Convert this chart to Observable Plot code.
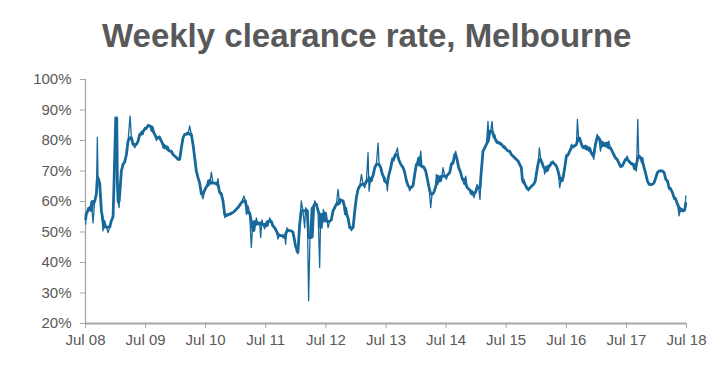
<!DOCTYPE html>
<html>
<head>
<meta charset="utf-8">
<script src="https://cdn.jsdelivr.net/npm/d3@7"></script>
<script src="https://cdn.jsdelivr.net/npm/@observablehq/plot@0.6"></script>
<style>
  html, body { margin: 0; padding: 0; background: #fff; }
  #wrap { position: relative; width: 721px; height: 370px; overflow: hidden; background: #fff; }
  #title { position: absolute; top: 19px; left: 102px; font-family: "Liberation Sans", Arial, sans-serif; font-weight: bold; font-size: 33px; line-height: 33px; color: #595959; white-space: nowrap; }
  #chart { position: absolute; top: 70px; left: 0; }
</style>
</head>
<body>
<div id="wrap">
  <div id="title">Weekly clearance rate, Melbourne</div>
  <div id="chart"></div>
</div>
<script>
// Week (as decimal year)
const years = [
2008.500,2008.511,2008.539,2008.566,2008.594,2008.622,2008.650,2008.678,2008.694,2008.705,
2008.733,2008.761,2008.788,2008.816,2008.844,2008.872,2008.899,2008.927,2008.955,2008.971,
2008.999,2009.016,2009.027,2009.038,2009.055,2009.066,2009.093,2009.121,2009.149,2009.177,
2009.204,2009.238,2009.260,2009.288,2009.315,2009.343,2009.371,2009.399,2009.426,2009.454,
2009.482,2009.510,2009.537,2009.565,2009.593,2009.620,2009.648,2009.676,2009.704,2009.731,
2009.759,2009.787,2009.814,2009.842,2009.870,2009.898,2009.925,2009.953,2009.981,2010.008,
2010.036,2010.064,2010.092,2010.120,2010.147,2010.175,2010.203,2010.230,2010.258,2010.286,
2010.314,2010.341,2010.369,2010.397,2010.425,2010.452,2010.480,2010.508,2010.535,2010.563,
2010.591,2010.619,2010.646,2010.674,2010.702,2010.730,2010.757,2010.785,2010.813,2010.840,
2010.868,2010.896,2010.924,2010.951,2010.979,
2011.035,2011.090,2011.134,2011.157,2011.173,2011.201,2011.229,2011.256,2011.284,2011.312,
2011.340,2011.367,2011.395,2011.412,2011.434,2011.450,2011.478,2011.506,2011.534,2011.561,
2011.589,2011.617,2011.645,2011.672,2011.700,2011.728,2011.756,2011.783,2011.811,2011.828,
2011.850,2011.867,2011.894,2011.922,2011.950,2011.977,2011.990,2012.005,2012.020,2012.033,
2012.061,2012.088,2012.116,2012.144,2012.160,2012.188,2012.210,2012.232,2012.255,2012.282,
2012.310,2012.338,2012.366,2012.393,2012.410,2012.432,2012.454,2012.477,2012.504,2012.532,
2012.560,2012.587,2012.615,2012.643,2012.671,2012.698,2012.726,2012.754,2012.782,2012.809,
2012.837,2012.865,2012.893,2012.920,2012.948,2012.976,2013.003,2013.031,2013.059,2013.087,
2013.114,2013.142,2013.170,2013.197,2013.214,2013.242,2013.264,2013.286,2013.308,2013.336,
2013.364,2013.381,2013.408,2013.436,2013.464,
2013.475,2013.503,2013.519,2013.542,2013.575,2013.597,2013.630,2013.652,2013.686,2013.708,
2013.741,2013.780,2013.808,2013.836,2013.863,2013.891,2013.919,2013.946,2013.974,2014.002,
2014.030,2014.046,2014.074,2014.096,2014.129,2014.157,2014.185,2014.213,2014.240,2014.263,
2014.290,2014.318,2014.335,2014.362,2014.390,2014.418,2014.446,2014.473,2014.501,2014.529,
2014.557,2014.584,2014.612,2014.640,2014.656,2014.679,2014.706,2014.739,2014.767,2014.795,
2014.823,2014.850,2014.878,2014.906,2014.934,2014.961,2014.984,2015.011,2015.039,2015.061,
2015.083,2015.111,2015.139,2015.167,2015.194,2015.211,2015.239,2015.261,2015.283,2015.305,
2015.333,2015.361,2015.388,2015.416,2015.444,2015.472,2015.499,2015.527,2015.555,2015.583,
2015.610,2015.638,2015.666,2015.694,2015.721,2015.749,2015.766,2015.793,2015.821,2015.849,
2015.871,2015.899,2015.926,2015.954,2015.982,
2015.999,2016.026,2016.049,2016.071,2016.093,2016.121,2016.137,2016.165,2016.193,2016.221,
2016.248,2016.276,2016.304,2016.332,2016.359,2016.387,2016.415,2016.442,2016.470,2016.498,
2016.526,2016.553,2016.581,2016.609,2016.637,2016.664,2016.681,2016.703,2016.731,2016.759,
2016.786,2016.814,2016.842,2016.870,2016.897,2016.925,2016.953,2016.980,2017.008,2017.036,
2017.064,2017.091,2017.119,2017.147,2017.175,2017.202,2017.230,2017.258,2017.285,2017.313,
2017.341,2017.369,2017.396,2017.424,2017.452,2017.480,2017.507,2017.535,2017.563,2017.591,
2017.618,2017.646,2017.663,2017.685,2017.701,2017.724,2017.746,2017.768,2017.790,2017.818,
2017.846,2017.874,2017.901,2017.929,2017.957,2017.984,2018.012,2018.040,2018.068,2018.095,
2018.123,2018.151,2018.179,2018.206,2018.234,2018.262,2018.289,2018.317,2018.345,2018.373,
2018.395,2018.417,2018.439,2018.467,2018.484
];

// Weekly clearance rate (%)
const rates = [
52.6,56.0,58.0,57.0,60.2,53.0,60.0,62.5,81.0,67.8,
66.0,57.0,50.4,53.7,51.6,49.8,51.6,53.7,55.0,66.0,
87.4,87.4,66.0,60.0,58.0,62.5,70.0,72.2,73.0,75.4,
79.8,88.0,80.9,78.7,77.6,78.7,79.8,82.0,83.0,82.0,
84.2,83.7,85.3,84.8,83.0,84.5,82.0,80.0,80.9,81.5,
79.8,77.6,78.7,77.0,78.0,76.5,76.5,75.4,74.9,74.5,
73.8,73.8,77.6,80.9,82.0,82.5,82.0,84.8,82.0,78.7,
74.3,70.0,67.8,66.0,62.5,60.9,63.7,64.8,67.0,65.4,
69.6,66.0,66.0,65.4,67.5,62.5,63.0,60.2,54.7,55.8,
55.3,56.2,55.8,56.4,56.9,
58.0,59.6,61.8,60.2,55.8,58.6,56.3,44.9,53.5,50.4,
54.6,52.5,53.0,48.2,54.0,52.5,51.0,53.5,52.0,54.6,
53.5,52.0,51.4,50.4,47.7,49.3,48.8,48.2,49.3,46.0,
51.4,50.4,50.6,50.4,49.9,47.2,45.5,44.9,43.5,42.8,
52.5,60.2,56.9,51.4,58.0,57.0,27.5,48.2,58.0,48.2,
60.2,59.1,57.0,38.4,55.8,51.4,57.4,53.5,56.3,51.4,
53.5,54.0,56.9,58.0,59.1,64.0,59.1,60.7,60.2,55.8,
58.0,54.6,51.4,50.4,51.4,56.9,61.3,64.0,65.1,68.9,
65.6,64.5,66.7,76.0,63.4,67.8,66.7,68.9,71.1,72.2,
79.2,72.2,71.1,68.9,66.7,
67.8,66.2,63.5,68.6,71.1,74.3,73.3,75.4,77.6,73.8,
72.2,71.1,69.5,66.8,65.2,63.5,64.6,65.2,68.9,72.2,
74.3,71.7,76.5,71.1,71.6,70.0,67.3,64.6,58.0,62.4,
62.9,64.5,68.9,65.6,68.3,66.7,71.1,68.3,67.3,68.9,
69.5,72.7,72.2,75.4,76.5,73.8,71.1,69.5,67.3,65.6,
68.3,64.5,64.0,62.4,63.5,61.3,62.9,65.6,64.5,60.7,
70.0,76.5,77.6,78.7,86.3,79.8,83.1,86.3,80.9,82.0,
79.2,79.8,78.7,79.2,77.6,78.2,77.1,76.5,76.5,75.4,
74.9,74.3,73.8,73.3,72.2,71.1,66.2,67.3,65.2,64.1,
63.5,64.6,65.2,65.6,66.8,
69.0,72.2,77.6,73.8,72.7,71.1,69.0,71.6,70.0,71.6,
72.7,73.3,72.2,71.6,70.0,64.5,67.8,66.7,71.1,75.4,
74.9,76.5,78.7,77.6,78.2,78.7,86.9,79.8,80.9,77.6,
78.2,77.1,78.2,76.5,77.6,75.4,73.8,78.7,82.0,80.9,
76.5,79.8,78.2,79.2,77.6,79.8,77.6,76.5,75.4,74.3,
73.8,72.7,71.1,71.6,72.7,73.8,74.9,73.3,72.2,72.7,
70.6,72.2,70.0,86.9,74.3,74.9,72.7,74.3,71.1,69.0,
66.7,65.6,65.4,65.6,66.2,67.8,69.5,70.0,70.2,70.0,
69.5,67.3,66.7,64.0,64.5,62.9,60.7,61.3,59.1,55.3,
58.0,56.9,57.4,56.9,61.8
];

const xTickDates = ["2008-07-01","2009-07-01","2010-07-01","2011-07-01","2012-07-01","2013-07-01","2014-07-01","2015-07-01","2016-07-01","2017-07-01","2018-07-01"];
const xTickLabels = ["Jul 08","Jul 09","Jul 10","Jul 11","Jul 12","Jul 13","Jul 14","Jul 15","Jul 16","Jul 17","Jul 18"];
const yTicks = [20,30,40,50,60,70,80,90,100];

const lineColor = "#17689b";
const axisGray = "#a6a6a6";
const textGray = "#595959";

function decYear(t) {
  const y = Math.floor(t);
  const a = Date.UTC(y, 0, 1), b = Date.UTC(y + 1, 0, 1);
  return new Date(a + (t - y) * (b - a));
}

const data = years.map((t, i) => ({date: decYear(t), rate: rates[i]}));
const tickDates = xTickDates.map(s => new Date(s + "T00:00:00Z"));
const labelOf = new Map(tickDates.map((d, i) => [+d, xTickLabels[i]]));

const chart = Plot.plot({
  width: 721,
  height: 300,
  marginTop: 9,
  marginBottom: 47,
  marginLeft: 85,
  marginRight: 35,
  style: {fontFamily: "'Liberation Sans', Arial, sans-serif", fontSize: "15px", color: textGray, background: "white", overflow: "visible"},
  x: {type: "utc", domain: [tickDates[0], tickDates[tickDates.length - 1]]},
  y: {domain: [20, 100]},
  marks: [
    Plot.ruleX([tickDates[0]], {stroke: axisGray, strokeWidth: 1.3}),
    Plot.ruleY([20], {stroke: axisGray, strokeWidth: 2}),
    Plot.axisX({ticks: tickDates, tickSize: 5, tickPadding: 6, stroke: axisGray, fill: textGray, tickFormat: d => labelOf.get(+d), label: null, fontSize: 15}),
    Plot.axisY({ticks: yTicks, tickSize: 5, tickPadding: 9, stroke: axisGray, fill: textGray, tickFormat: d => d + "%", label: null, fontSize: 15}),
    Plot.lineY(data, {x: "date", y: "rate", stroke: lineColor, strokeWidth: 1.3}),
    Plot.lineY(data, Plot.windowY({k: 3, reduce: "median"}, {x: "date", y: "rate", stroke: lineColor, strokeWidth: 2.8}))
  ]
});
document.getElementById("chart").appendChild(chart);
</script>
</body>
</html>
